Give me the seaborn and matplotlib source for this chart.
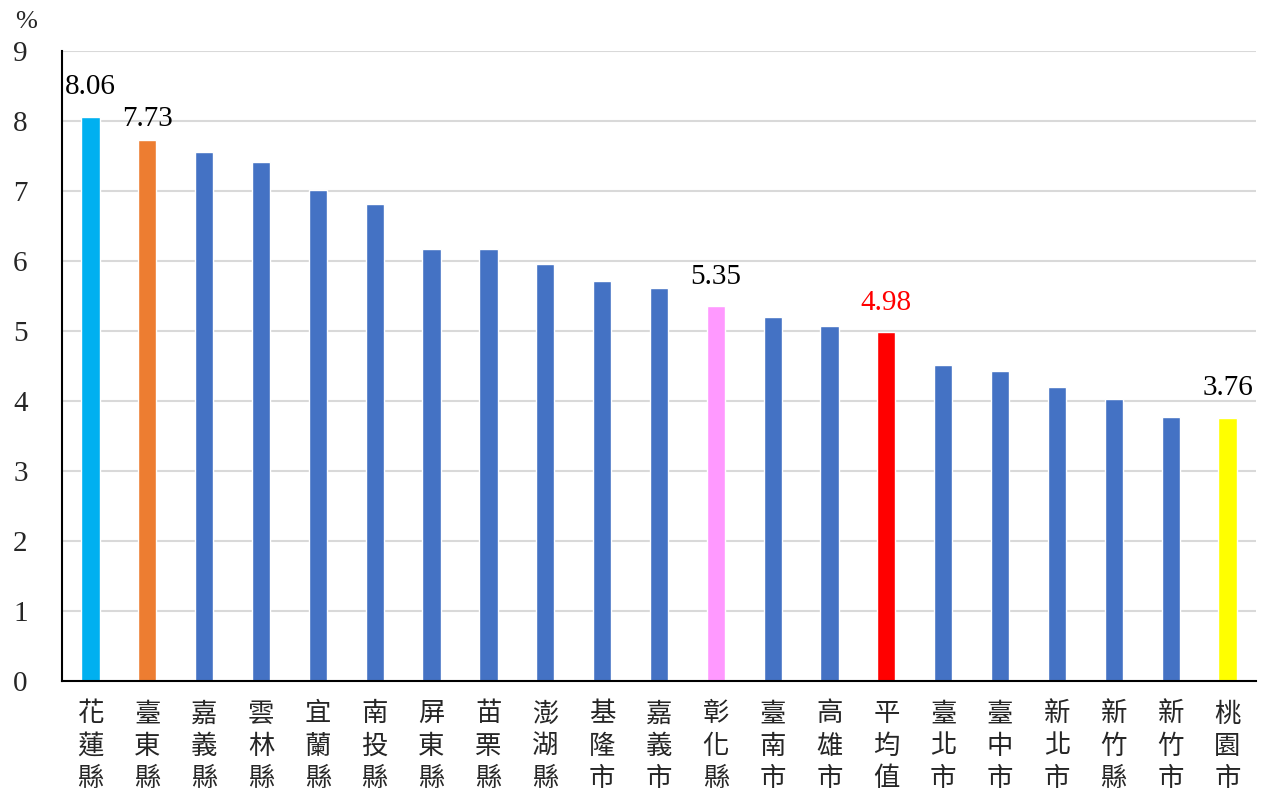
import matplotlib
matplotlib.use("Agg")
import matplotlib.pyplot as plt
import seaborn as sns
import pandas as pd

categories = ["花蓮縣", "臺東縣", "嘉義縣", "雲林縣", "宜蘭縣", "南投縣", "屏東縣",
              "苗栗縣", "澎湖縣", "基隆市", "嘉義市", "彰化縣", "臺南市", "高雄市",
              "平均值", "臺北市", "臺中市", "新北市", "新竹縣", "新竹市", "桃園市"]
values = [8.06, 7.73, 7.56, 7.41, 7.01, 6.81, 6.17, 6.17, 5.96, 5.71, 5.61,
          5.35, 5.20, 5.07, 4.98, 4.51, 4.43, 4.20, 4.03, 3.77, 3.76]
colors = ["#00B0F0", "#ED7D31", "#4472C4", "#4472C4", "#4472C4", "#4472C4", "#4472C4",
          "#4472C4", "#4472C4", "#4472C4", "#4472C4", "#FF99FF", "#4472C4", "#4472C4",
          "#FF0000", "#4472C4", "#4472C4", "#4472C4", "#4472C4", "#4472C4", "#FFFF00"]
labeled = {"花蓮縣": "black", "臺東縣": "black", "彰化縣": "black",
           "平均值": "#FF0000", "桃園市": "black"}
yticks = list(range(0, 10))

sns.set_theme(style="white")
plt.rcParams['font.family'] = ['Noto Sans CJK TC', 'DejaVu Sans']

df = pd.DataFrame({"cat": categories, "val": values})
fig = plt.figure(figsize=(12.66, 7.94), dpi=100)
ax = fig.add_axes([0.049, 0.1423, 0.943, 0.7935])
sns.barplot(data=df, x="cat", y="val", hue="cat", palette=colors, legend=False,
            width=0.32, ax=ax, saturation=1)

ax.set_ylim(0, 9)
ax.set_xlim(-0.5, len(categories) - 0.5)
ax.set_yticks(yticks)
ax.set_yticklabels([str(t) for t in yticks], fontfamily="Liberation Serif", fontsize=21)
ax.yaxis.grid(True, color="#D9D9D9", linewidth=1.5)
ax.set_axisbelow(True)
ax.set_xticks(range(len(categories)))
ax.set_xticklabels(["\n".join(c) for c in categories], fontsize=19, linespacing=1.25,
                   va="top")
ax.tick_params(axis="x", length=0, pad=14)
ax.tick_params(axis="y", length=0, pad=30)
for lbl in ax.get_yticklabels():
    lbl.set_horizontalalignment("center")
ax.set_xlabel("")
ax.set_ylabel("")
for s in ["top", "right"]:
    ax.spines[s].set_visible(False)
for s in ["left", "bottom"]:
    ax.spines[s].set_color("black")
    ax.spines[s].set_linewidth(1.5)

for i, (c, v) in enumerate(zip(categories, values)):
    if c in labeled:
        off = 6 if c == "臺東縣" else 12
        ax.annotate(f"{v:.2f}", (i, v), xytext=(0, off), textcoords="offset points",
                    ha="center", va="bottom", fontsize=21, color=labeled[c],
                    fontfamily="Liberation Serif")

fig.text(0.012, 0.972, "%", fontsize=19, fontfamily="Liberation Serif", va="center")
fig.savefig("out.png", dpi=100)
